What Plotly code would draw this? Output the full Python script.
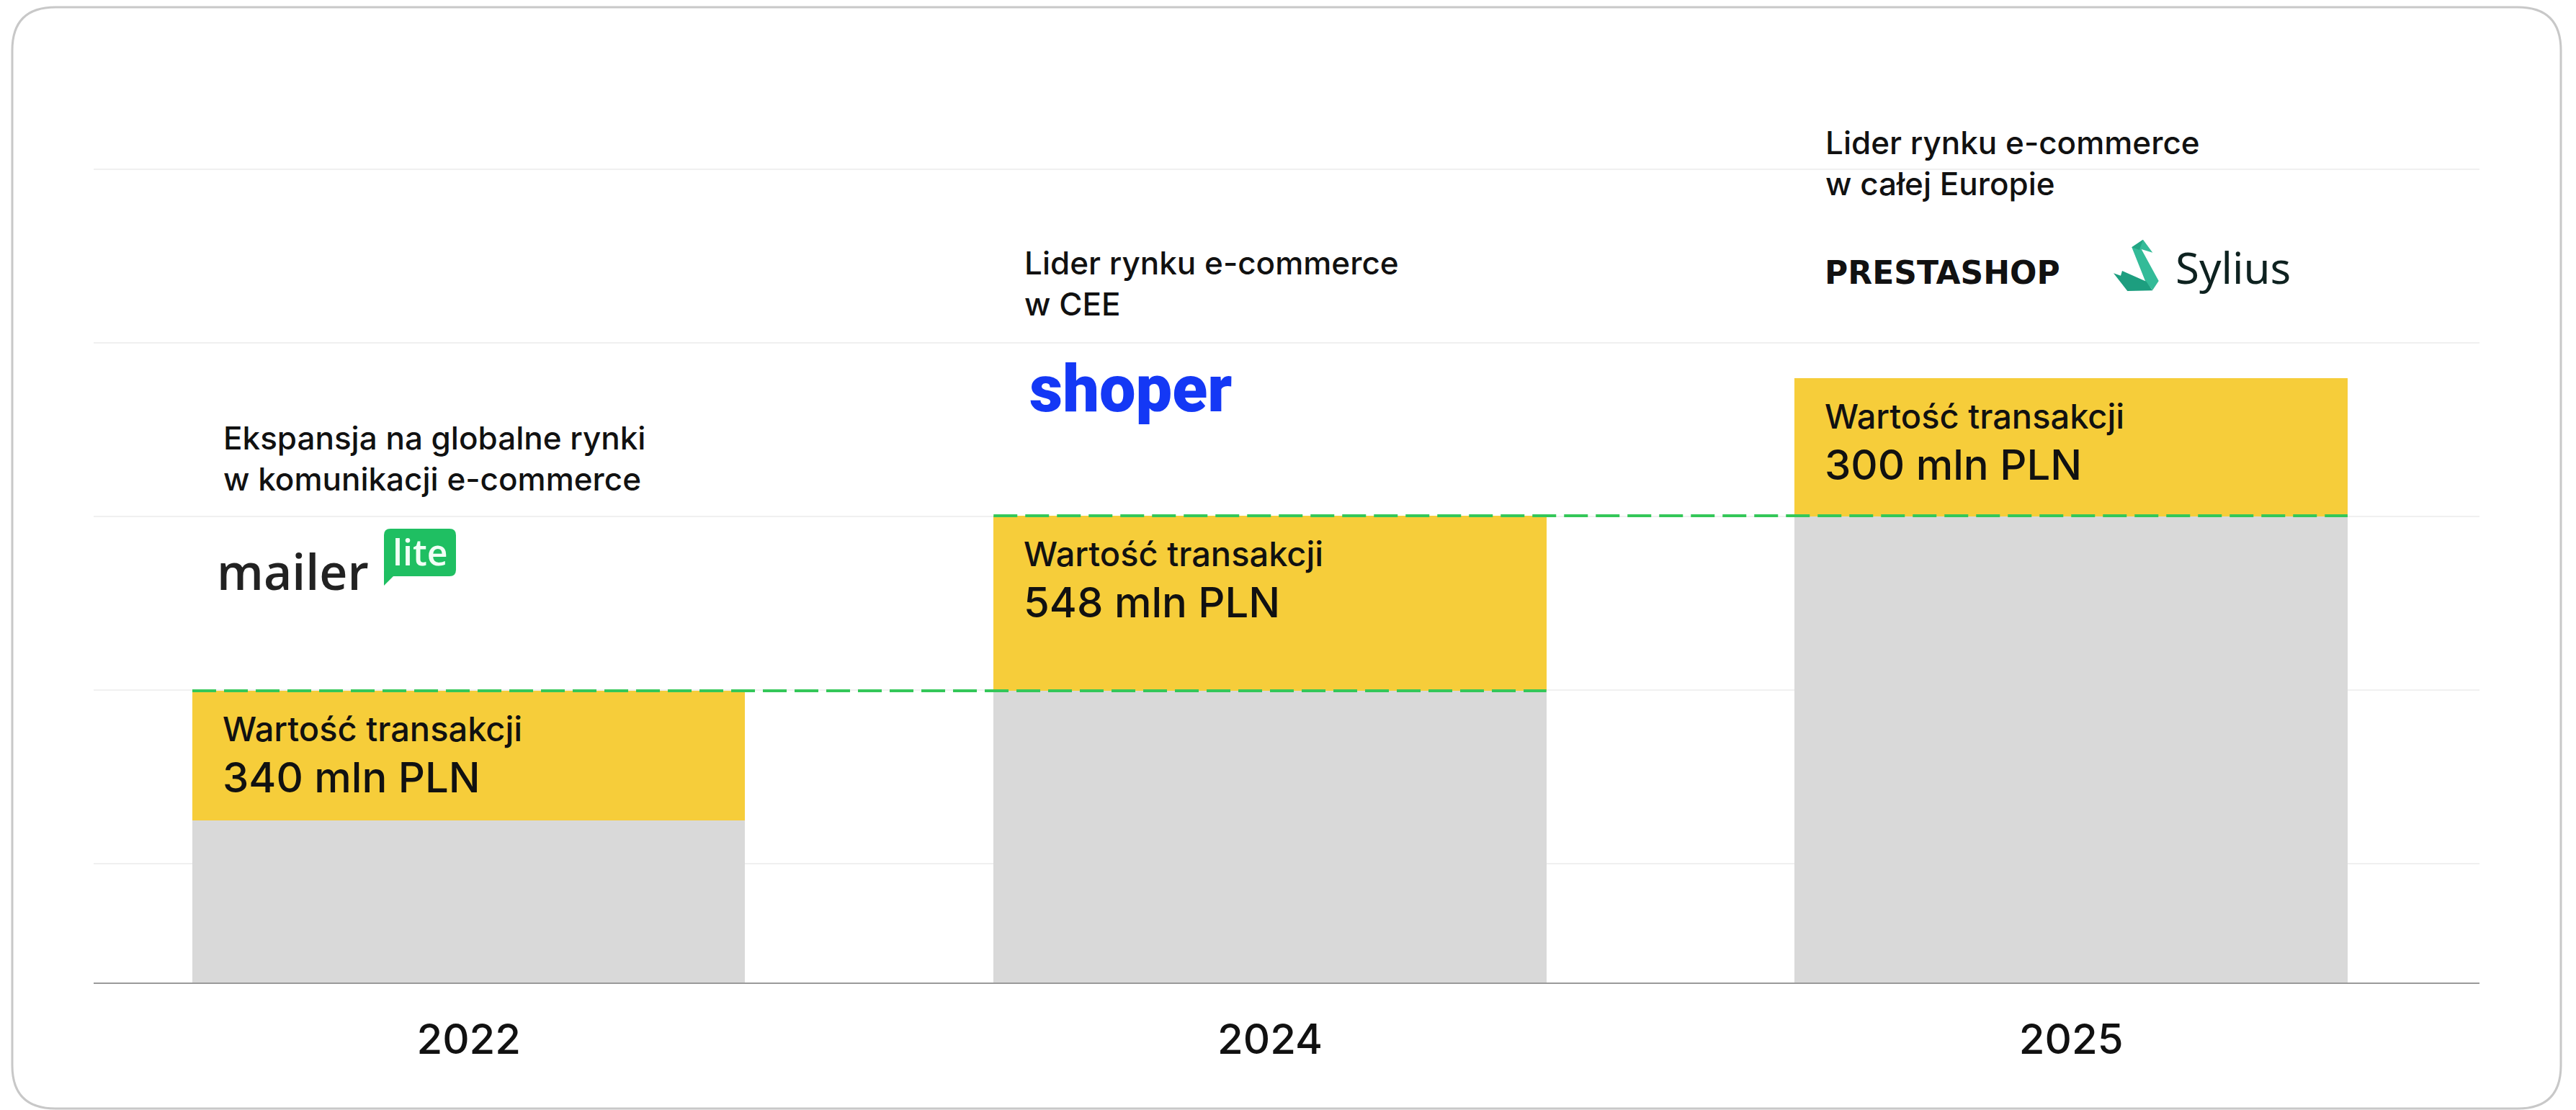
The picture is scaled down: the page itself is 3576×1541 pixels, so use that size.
import plotly.graph_objects as go

# ---------------- data ----------------
years = ["2022", "2024", "2025"]
grey_height = [225, 405, 668]          # grey (cumulative base) bars
yellow_base = [225, 405, 647]          # where the yellow increment starts
yellow_height = [180, 243, 192]        # yellow increment
value_caption = "Wartość transakcji"
value_labels = ["340 mln PLN", "548 mln PLN", "300 mln PLN"]
headings = [
    "Ekspansja na globalne rynki<br>w komunikacji e-commerce",
    "Lider rynku e-commerce<br>w CEE",
    "Lider rynku e-commerce<br>w całej Europie",
]
heading_levels = [728, 971, 1138]
grid_levels = [165, 406, 647, 888, 1129]

# ---------------- layout geometry (page pixel coordinates) ----------------
PAGE_W, PAGE_H = 3576, 1541
OFF = 8                                   # browser body margin
PL, PR_X, PT, PB_Y = 130, 3442, 164, 1364  # plot area on the page
PW, PH = PR_X - PL, PB_Y - PT
FIG_W, FIG_H = PAGE_W - OFF, PAGE_H - OFF
ML, MT = PL - OFF, PT - OFF
MR, MB = FIG_W - (PR_X - OFF), FIG_H - (PB_Y - OFF)
BAR_W = 0.69
XRANGE = [-0.4682, 2.5096]

GREY = "#d9d9d9"
YELLOW = "#f6cd3a"
GREEN = "#34c759"
FONT = "Inter"
TXT = "#111111"


def px(x):
    return (x - PL) / PW


def py(y):
    return (PB_Y - y) / PH


def path(points, close=True):
    s = "M " + " L ".join(f"{px(x):.5f},{py(y):.5f}" for x, y in points)
    return s + (" Z" if close else "")


def rrect(x0, y0, x1, y1, r):
    P = lambda x, y: f"{px(x):.5f},{py(y):.5f}"
    return (f"M {P(x0 + r, y0)} L {P(x1 - r, y0)} Q {P(x1, y0)} {P(x1, y0 + r)} "
            f"L {P(x1, y1 - r)} Q {P(x1, y1)} {P(x1 - r, y1)} "
            f"L {P(x0 + r, y1)} Q {P(x0, y1)} {P(x0, y1 - r)} "
            f"L {P(x0, y0 + r)} Q {P(x0, y0)} {P(x0 + r, y0)} Z")


xs = list(range(len(years)))
fig = go.Figure()

fig.add_trace(go.Bar(x=xs, y=grey_height, base=[0] * len(xs), width=BAR_W,
                     marker=dict(color=GREY, line=dict(width=0)), hoverinfo="skip"))
fig.add_trace(go.Bar(x=xs, y=yellow_height, base=yellow_base, width=BAR_W,
                     marker=dict(color=YELLOW, line=dict(width=0)), hoverinfo="skip"))

# dashed level lines connecting the top of one bar to the next bar
for i in range(len(xs) - 1):
    level = yellow_base[i] + yellow_height[i]
    fig.add_trace(go.Scatter(x=[xs[i] - BAR_W / 2, xs[i + 1] + BAR_W / 2], y=[level, level],
                             mode="lines", line=dict(color=GREEN, width=4, dash="33px,11px"),
                             hoverinfo="skip"))

annotations = []
for i in xs:
    top = yellow_base[i] + yellow_height[i]
    annotations.append(dict(x=xs[i] - BAR_W / 2, y=top, xref="x", yref="y", xanchor="left",
                            yanchor="middle", xshift=40, yshift=-52, showarrow=False,
                            text=value_caption,
                            font=dict(family=FONT, size=47, color=TXT, weight=500)))
    annotations.append(dict(x=xs[i] - BAR_W / 2, y=top, xref="x", yref="y", xanchor="left",
                            yanchor="middle", xshift=40, yshift=-120, showarrow=False,
                            text=value_labels[i],
                            font=dict(family=FONT, size=58, color=TXT, weight=500)))
    annotations.append(dict(x=xs[i] - BAR_W / 2, y=heading_levels[i], xref="x", yref="y",
                            xanchor="left", yanchor="middle", xshift=41, showarrow=False,
                            align="left", text=headings[i],
                            font=dict(family=FONT, size=44, color=TXT, weight=500)))

# ---- logos (decorative) ----
annotations.append(dict(x=px(299), y=py(792), xref="paper", yref="paper", xanchor="left",
                        yanchor="middle", showarrow=False, text="mailer",
                        font=dict(family="Open Sans", size=68, color="#222222", weight=600)))
annotations.append(dict(x=px(583), y=py(766), xref="paper", yref="paper", xanchor="center",
                        yanchor="middle", showarrow=False, text="lite",
                        font=dict(family="Open Sans", size=50, color="#f2fff6", weight=600)))
annotations.append(dict(x=px(1427), y=py(540), xref="paper", yref="paper", xanchor="left",
                        yanchor="middle", showarrow=False, text="shoper",
                        font=dict(family="Roboto", size=90, color="#1438f5", weight=900)))
annotations.append(dict(x=px(2531), y=py(378), xref="paper", yref="paper", xanchor="left",
                        yanchor="middle", showarrow=False, text="<b>PRESTASHOP</b>",
                        font=dict(family="DejaVu Sans", size=44, color="#111111")))
annotations.append(dict(x=px(3018), y=py(371), xref="paper", yref="paper", xanchor="left",
                        yanchor="middle", showarrow=False, text="Sylius",
                        font=dict(family="Noto Sans", size=60, color="#0e2220")))

shapes = [
    # outer rounded frame
    dict(type="path", xref="paper", yref="paper", path=rrect(17, 10, 3555, 1539, 60),
         line=dict(color="#c8c8c8", width=3), fillcolor="rgba(0,0,0,0)", layer="above"),
    # mailerlite bubble
    dict(type="path", xref="paper", yref="paper", path=rrect(533, 734, 633, 800, 9),
         line=dict(width=0), fillcolor="#1fbf62", layer="above"),
    dict(type="path", xref="paper", yref="paper",
         path=path([(533, 792), (533, 813), (547, 799)]),
         line=dict(width=0), fillcolor="#1fbf62", layer="above"),
    # sylius swan
    dict(type="path", xref="paper", yref="paper",
         path=path([(2959.3, 343.3), (2975, 332.7), (2988.3, 350.7), (2972.7, 346),
                    (2996.7, 390), (2988.3, 402.7), (2978.3, 390.7)]),
         line=dict(width=0), fillcolor="#33bb98", layer="above"),
    dict(type="path", xref="paper", yref="paper",
         path=path([(2959.3, 343.3), (2975, 332.7), (2970, 347)]),
         line=dict(width=0), fillcolor="#22a584", layer="above"),
    dict(type="path", xref="paper", yref="paper",
         path=path([(2934, 379.3), (2944, 382.7), (2946, 376), (2979.3, 390.7),
                    (2988.3, 403.3), (2953.3, 404)]),
         line=dict(width=0), fillcolor="#1d9e7f", layer="above"),
]

fig.update_layout(
    width=FIG_W, height=FIG_H,
    margin=dict(l=ML, r=MR, t=MT, b=MB, pad=0),
    paper_bgcolor="white", plot_bgcolor="white",
    showlegend=False, barmode="overlay", bargap=0,
    annotations=annotations, shapes=shapes,
    xaxis=dict(range=XRANGE, tickmode="array", tickvals=xs, ticktext=years,
               showgrid=False, zeroline=False, showline=True, linecolor="#9a9a9a",
               linewidth=2, ticks="", ticklabelstandoff=27,
               tickfont=dict(family=FONT, size=58, color=TXT, weight=500), fixedrange=True),
    yaxis=dict(range=[0, PH], tickmode="array", tickvals=grid_levels, showticklabels=False,
               showgrid=True, gridcolor="#f0f0f0", gridwidth=2, zeroline=False,
               showline=False, ticks="", fixedrange=True),
)

fig.write_html("out.html")
